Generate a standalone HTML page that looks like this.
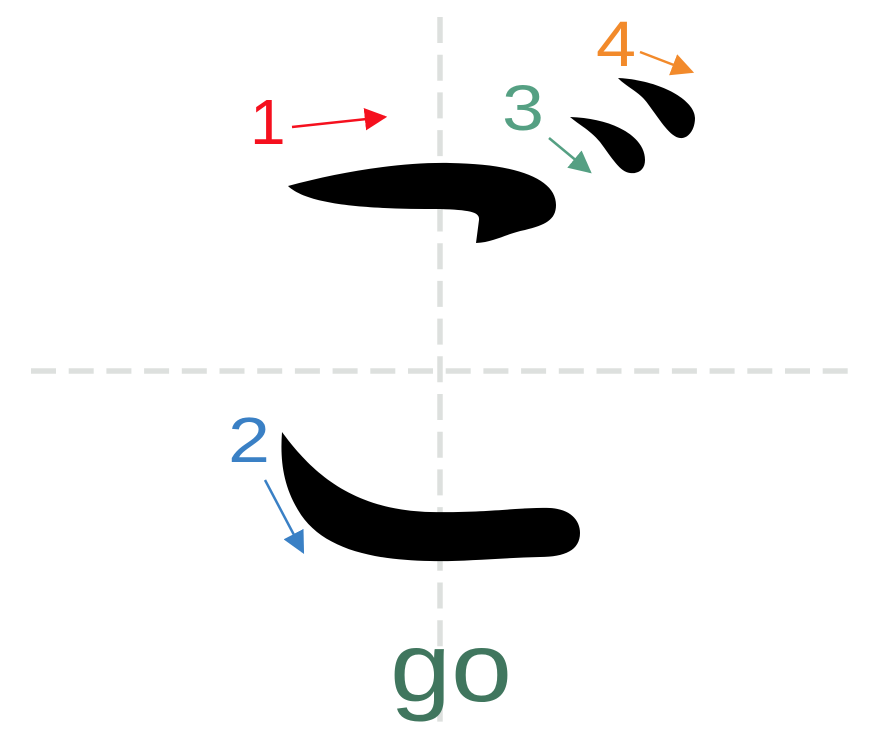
<!DOCTYPE html>
<html><head><meta charset="utf-8"><style>html,body{margin:0;padding:0;background:#fff}svg{display:block}</style></head>
<body>
<svg width="880" height="739" viewBox="0 0 880 739" xmlns="http://www.w3.org/2000/svg">
<defs>
<marker id="mr" viewBox="0 0 10 10" refX="9" refY="5" markerWidth="9" markerHeight="9" orient="auto"><path d="M0,0L10,5L0,10z" fill="#f5101e"/></marker>
<marker id="mg" viewBox="0 0 10 10" refX="9" refY="5" markerWidth="9" markerHeight="9" orient="auto"><path d="M0,0L10,5L0,10z" fill="#55a083"/></marker>
<marker id="mo" viewBox="0 0 10 10" refX="9" refY="5" markerWidth="9" markerHeight="9" orient="auto"><path d="M0,0L10,5L0,10z" fill="#f28a2b"/></marker>
<marker id="mb" viewBox="0 0 10 10" refX="9" refY="5" markerWidth="9" markerHeight="9" orient="auto"><path d="M0,0L10,5L0,10z" fill="#3a80c5"/></marker>
</defs>
<line x1="440" y1="17" x2="440" y2="722" stroke="#dde0de" stroke-width="5.5" stroke-dasharray="26 11.7"/>
<line x1="31" y1="371" x2="850" y2="371" stroke="#dde0de" stroke-width="5.5" stroke-dasharray="25 12.7"/>
<path d="M288,186 C340,172 400,162 450,163 C520,164 556,180 556,205 C556,220 545,225 525,230 C505,234 495,242 476,243 L479,220 C480,212 470,210 440,209 C380,209 310,207 288,186 Z" fill="#000"/>
<path d="M570,117 C610,118 645,135 645,160 C645,170 638,174 630,173 C620,172 612,158 600,142 C590,130 578,124 570,117 Z" fill="#000"/>
<path d="M618,78 C660,80 695,100 695,118 C695,130 688,139 680,138 C670,137 660,120 648,104 C640,92 625,86 618,78 Z" fill="#000"/>
<path d="M282,432 C310,470 350,510 430,512 C490,513 520,507 550,508 C570,509 580,520 580,533 C580,550 565,557 540,557 C500,558 460,562 430,561 C370,560 320,548 298,510 C283,485 280,460 282,432 Z" fill="#000"/>
<g font-family="Liberation Sans, sans-serif" font-size="64">
<text x="250" y="144" fill="#f5101e">1</text>
<text x="502" y="130" fill="#55a083" textLength="42" lengthAdjust="spacingAndGlyphs">3</text>
<text x="596" y="66" fill="#f28a2b" textLength="40" lengthAdjust="spacingAndGlyphs">4</text>
<text x="228" y="462" fill="#3a80c5" textLength="42" lengthAdjust="spacingAndGlyphs">2</text>
</g>
<line x1="292" y1="127" x2="385" y2="117" stroke="#f5101e" stroke-width="2.5" marker-end="url(#mr)"/>
<line x1="549" y1="138" x2="590" y2="172" stroke="#55a083" stroke-width="2.5" marker-end="url(#mg)"/>
<line x1="640" y1="52" x2="692" y2="72" stroke="#f28a2b" stroke-width="2.5" marker-end="url(#mo)"/>
<line x1="265" y1="480" x2="303" y2="552" stroke="#3a80c5" stroke-width="2.5" marker-end="url(#mb)"/>
<text x="390" y="701" font-family="Liberation Sans, sans-serif" font-size="98" fill="#40765e" textLength="122" lengthAdjust="spacingAndGlyphs">go</text>
</svg>
</body></html>
